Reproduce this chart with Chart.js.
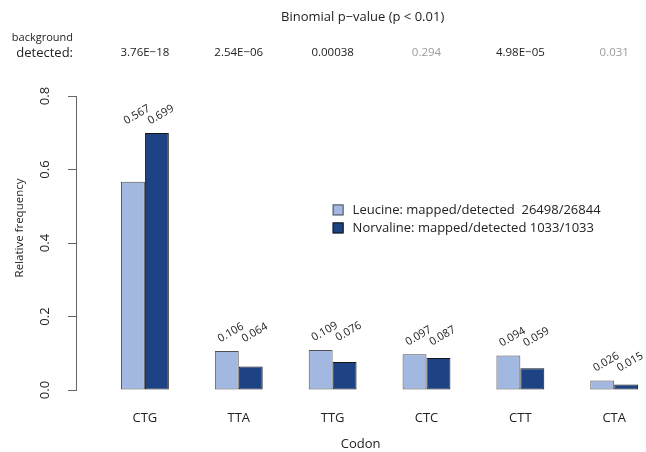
<!DOCTYPE html>
<html>
<head>
<meta charset="utf-8">
<script src="https://cdn.jsdelivr.net/npm/chart.js@4"></script>
<style>
  html, body { margin: 0; padding: 0; background: #fff; }
  #wrap { width: 646px; height: 452px; }
</style>
</head>
<body>
<div id="wrap"><canvas id="c" width="646" height="452"></canvas></div>
<script>
const categories = ['CTG', 'TTA', 'TTG', 'CTC', 'CTT', 'CTA'];
const leucine = [0.567, 0.106, 0.109, 0.097, 0.094, 0.026];
const norvaline = [0.699, 0.064, 0.076, 0.087, 0.059, 0.015];
const pValueText = ['3.76E\u221218', '2.54E\u221206', '0.00038', '0.294', '4.98E\u221205', '0.031'];
const pValueNum = [3.76e-18, 2.54e-6, 0.00038, 0.294, 4.98e-5, 0.031];
const yTickLabels = ['0.0', '0.2', '0.4', '0.6', '0.8'];
const seriesNames = ['Leucine: mapped/detected  26498/26844', 'Norvaline: mapped/detected 1033/1033'];
const valueLabels = [
  ['0.567', '0.106', '0.109', '0.097', '0.094', '0.026'],
  ['0.699', '0.064', '0.076', '0.087', '0.059', '0.015']
];

const FONT = '"Open Sans", "Liberation Sans", sans-serif';
const LIGHT = '#a2b8e0';
const DARK = '#1d4384';

const extras = {
  id: 'extras',
  afterDraw(chart) {
    const ctx = chart.ctx;
    const xs = chart.scales.x, ys = chart.scales.y;
    const ca = chart.chartArea;
    ctx.save();
    ctx.fillStyle = '#222';
    // top title
    ctx.font = '13px ' + FONT;
    ctx.textAlign = 'center';
    ctx.textBaseline = 'middle';
    ctx.fillText('Binomial p\u2212value (p < 0.01)', (ca.left + ca.right) / 2 + 2, 17);
    // background detected
    ctx.textAlign = 'right';
    ctx.font = '11px ' + FONT;
    ctx.fillText('background', 73, 38);
    ctx.font = '13px ' + FONT;
    ctx.fillText('detected:', 73, 53);
    // p-values
    ctx.font = '11.5px ' + FONT;
    ctx.textAlign = 'center';
    pValueText.forEach((t, i) => {
      ctx.fillStyle = pValueNum[i] < 0.01 ? '#222' : '#9a9a9a';
      ctx.fillText(t, xs.getPixelForValue(i), 53);
    });
    // y title
    ctx.fillStyle = '#222';
    ctx.font = '11.5px ' + FONT;
    ctx.save();
    ctx.translate(20, 228);
    ctx.rotate(-Math.PI / 2);
    ctx.textAlign = 'center';
    ctx.textBaseline = 'middle';
    ctx.fillText('Relative frequency', 0, 0);
    ctx.restore();
    // value labels
    ctx.font = '11px ' + FONT;
    ctx.textAlign = 'center';
    ctx.textBaseline = 'middle';
    const m0 = chart.getDatasetMeta(0), m1 = chart.getDatasetMeta(1);
    categories.forEach((c, i) => {
      const gmax = Math.max(leucine[i], norvaline[i]);
      const y = ys.getPixelForValue(gmax + 0.05);
      [m0, m1].forEach((m, d) => {
        const bar = m.data[i];
        ctx.save();
        ctx.translate(bar.x + 4, y);
        ctx.rotate(-Math.PI / 6);
        ctx.fillText(valueLabels[d][i], 0, 0);
        ctx.restore();
      });
    });
    // legend
    ctx.font = '13px ' + FONT;
    ctx.textAlign = 'left';
    ctx.textBaseline = 'middle';
    const lx = xs.getPixelForValue(2);
    const rows = [ys.getPixelForValue(0.49), ys.getPixelForValue(0.441)];
    chart.data.datasets.forEach((ds, d) => {
      const cy = rows[d];
      ctx.fillStyle = ds.backgroundColor;
      ctx.fillRect(lx, cy - 5.5, 11, 11);
      ctx.strokeStyle = ds.borderColor;
      ctx.lineWidth = 1;
      ctx.strokeRect(lx + 0.5, cy - 5, 10, 10);
      ctx.fillStyle = '#222';
      ctx.fillText(ds.label, lx + 20, cy);
    });
    ctx.restore();
  }
};

new Chart(document.getElementById('c'), {
  type: 'bar',
  data: {
    datasets: [
      {
        label: seriesNames[0],
        data: leucine.map((v, i) => ({ x: i, y: v })),
        backgroundColor: LIGHT,
        borderColor: '#505050',
        borderWidth: 1,
        borderSkipped: false,
        categoryPercentage: 0.51,
        barPercentage: 1
      },
      {
        label: seriesNames[1],
        data: norvaline.map((v, i) => ({ x: i, y: v })),
        backgroundColor: DARK,
        borderColor: '#151515',
        borderWidth: 1,
        borderSkipped: false,
        categoryPercentage: 0.51,
        barPercentage: 1
      }
    ]
  },
  options: {
    responsive: false,
    animation: false,
    layout: { padding: { top: 96, left: 0, right: 0, bottom: 0 } },
    plugins: { legend: { display: false }, tooltip: { enabled: false }, title: { display: false } },
    scales: {
      x: {
        type: 'linear',
        offset: false,
        min: -0.734,
        max: 5.33,
        grid: { display: false, drawTicks: false },
        border: { display: false },
        afterBuildTicks: (s) => { s.ticks = categories.map((c, i) => ({ value: i })); },
        afterFit: (s) => { s.height = 62; },
        ticks: {
          autoSkip: false,
          maxRotation: 0,
          padding: 20,
          color: '#222',
          font: { family: FONT, size: 13 },
          callback: (v) => categories[v]
        },
        title: {
          display: true,
          text: 'Codon',
          color: '#222',
          font: { family: FONT, size: 13 },
          padding: { top: 0, bottom: 0 }
        }
      },
      y: {
        min: 0,
        max: 0.8,
        afterFit: (s) => { s.width = 76; },
        afterBuildTicks: (s) => { s.ticks = yTickLabels.map((t) => ({ value: parseFloat(t) })); },
        grid: { drawOnChartArea: false, drawTicks: true, tickLength: 8, color: '#666', lineWidth: 1 },
        border: { display: true, color: '#666', width: 1 },
        ticks: {
          minRotation: 90,
          maxRotation: 90,
          crossAlign: 'center',
          padding: 14,
          color: '#222',
          font: { family: FONT, size: 13 },
          callback: (v, i) => yTickLabels[i]
        }
      }
    }
  },
  plugins: [extras]
});
</script>
</body>
</html>
